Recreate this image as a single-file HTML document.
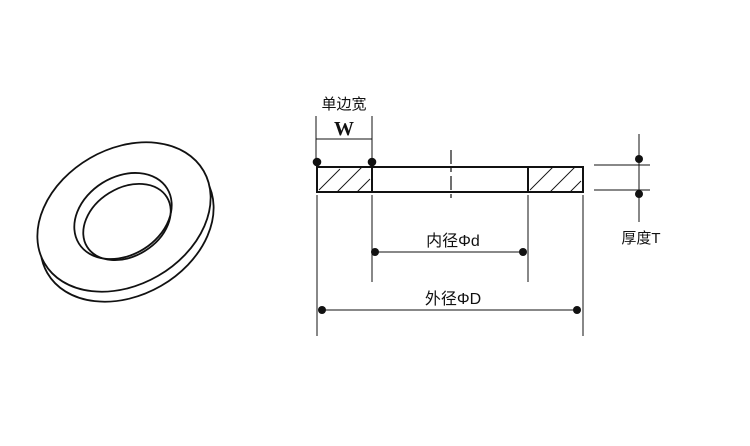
<!DOCTYPE html>
<html><head><meta charset="utf-8"><style>
html,body{margin:0;padding:0;background:#fff;width:750px;height:446px;overflow:hidden}
text{font-family:"Liberation Sans","Noto Sans CJK SC",sans-serif;fill:#111}
</style></head><body>
<svg width="750" height="446" viewBox="0 0 750 446" xmlns="http://www.w3.org/2000/svg">
<g fill="none" stroke="#111" stroke-width="1.8">
  <ellipse cx="127" cy="227" rx="92" ry="68" transform="rotate(-30 127 227)"/>
  <ellipse cx="124" cy="217" rx="92" ry="68" transform="rotate(-30 124 217)" fill="#fff"/>
  <ellipse cx="123" cy="216" rx="52" ry="39" transform="rotate(-32 123 216)"/>
  <ellipse cx="127" cy="222" rx="47" ry="34" transform="rotate(-32 127 222)"/>
</g>
<g stroke="#111" fill="none">
  <rect x="317" y="167" width="266" height="25" stroke-width="2"/>
  <line x1="372" y1="167" x2="372" y2="192" stroke-width="2"/>
  <line x1="528" y1="167" x2="528" y2="192" stroke-width="2"/>
  <g stroke-width="0.9">
    <line x1="319" y1="190" x2="340" y2="169"/>
    <line x1="337" y1="192" x2="362" y2="167"/>
    <line x1="357" y1="192" x2="370" y2="179"/>
    <line x1="530" y1="190" x2="553" y2="167"/>
    <line x1="550" y1="192" x2="575" y2="167"/>
    <line x1="570" y1="192" x2="581" y2="181"/>
  </g>
  <line x1="451" y1="150" x2="451" y2="200" stroke-width="1.2" stroke-dasharray="14,4,4,4"/>
  <line x1="316" y1="116" x2="316" y2="162" stroke-width="1"/>
  <line x1="372" y1="116" x2="372" y2="162" stroke-width="1"/>
  <line x1="316" y1="139" x2="372" y2="139" stroke-width="1"/>
  <line x1="372" y1="195" x2="372" y2="282" stroke-width="1"/>
  <line x1="528" y1="195" x2="528" y2="282" stroke-width="1"/>
  <line x1="317" y1="195" x2="317" y2="336" stroke-width="1"/>
  <line x1="583" y1="195" x2="583" y2="336" stroke-width="1"/>
  <line x1="375" y1="252" x2="523" y2="252" stroke-width="1"/>
  <line x1="322" y1="310" x2="577" y2="310" stroke-width="1"/>
  <line x1="594" y1="165" x2="650" y2="165" stroke-width="1"/>
  <line x1="594" y1="190" x2="650" y2="190" stroke-width="1"/>
  <line x1="639" y1="134" x2="639" y2="222" stroke-width="1"/>
</g>
<g fill="#111">
  <circle cx="317" cy="162" r="4.3"/>
  <circle cx="372" cy="162" r="4.3"/>
  <circle cx="375" cy="252" r="4"/>
  <circle cx="523" cy="252" r="4"/>
  <circle cx="322" cy="310" r="4"/>
  <circle cx="577" cy="310" r="4"/>
  <circle cx="639" cy="159" r="4"/>
  <circle cx="639" cy="194" r="4"/>
</g>
<text x="344" y="109" font-size="15" text-anchor="middle">单边宽</text>
<text x="344" y="135" font-size="20" font-weight="bold" text-anchor="middle" style="font-family:'Liberation Serif',serif">W</text>
<text x="453" y="246" font-size="16" text-anchor="middle">内径Φd</text>
<text x="453" y="304" font-size="16" text-anchor="middle">外径ΦD</text>
<text x="641" y="243" font-size="15" text-anchor="middle">厚度T</text>
</svg>
</body></html>
